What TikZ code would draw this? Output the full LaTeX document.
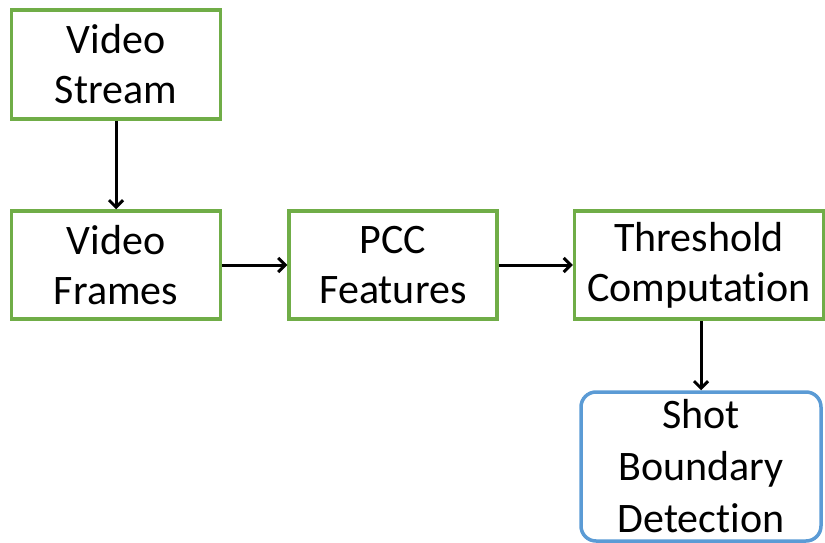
\documentclass[tikz,border=0pt]{standalone}
\usepackage{fontspec}
\setmainfont{Carlito}[RawFeature=-liga]
\usetikzlibrary{arrows.meta}
\definecolor{boxgreen}{RGB}{112,173,71}
\definecolor{boxblue}{RGB}{91,155,213}
\begin{document}
\begin{tikzpicture}[x=1pt,y=-1pt,
  stepbox/.style={draw=boxgreen,line width=3.5pt,rectangle,inner sep=0pt,
    align=center,font=\fontsize{42}{50}\selectfont},
  endbox/.style={draw=boxblue,line width=3.5pt,rectangle,rounded corners=15pt,inner sep=0pt,
    align=center,font=\fontsize{42}{52}\selectfont},
  conn/.style={line width=3pt,-{Straight Barb[length=7pt,width=14pt,line width=3pt]}}]
\useasboundingbox (0,0) rectangle (825,543);
\node[stepbox,minimum width=209pt,minimum height=109pt] (vs) at (116,64.5) {Video\\Stream};
\node[stepbox,minimum width=209pt,minimum height=108pt] (vf) at (116,265) {Video\\Frames};
\node[stepbox,minimum width=208pt,minimum height=108pt] (pcc) at (393,265) {PCC\\Features};
\node[stepbox,minimum width=249pt,minimum height=108pt] (th) at (699,265) {Threshold\\Computation};
\node[endbox,minimum width=240pt,minimum height=149pt] (sbd) at (701,466.5) {Shot\\Boundary\\Detection};
\draw[conn] (vs) -- (vf);
\draw[conn] (vf) -- (pcc);
\draw[conn] (pcc) -- (th);
\draw[conn] (th.south -| sbd.north) -- (sbd.north);
\end{tikzpicture}
\end{document}
